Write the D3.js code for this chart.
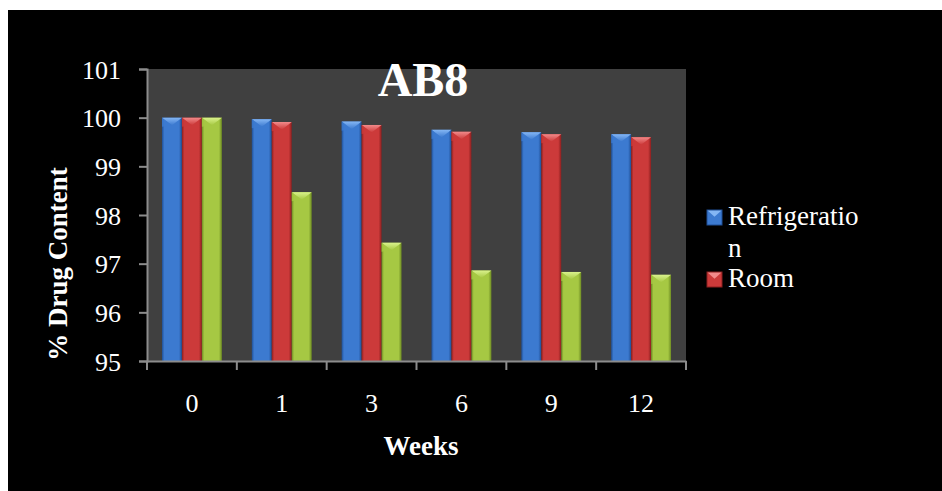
<!DOCTYPE html>
<html>
<head>
<meta charset="utf-8">
<script src="https://cdn.jsdelivr.net/npm/d3@7"></script>
<style>
  html, body { margin: 0; padding: 0; background: #ffffff; }
  svg { display: block; }
  text { font-family: "Liberation Serif", "DejaVu Serif", serif; fill: #ffffff; }
</style>
</head>
<body>
<script>
// ---- data ----
const weeks = ["0", "1", "3", "6", "9", "12"];
const seriesNames = ["Refrigeration", "Room", "Accelerated"];
const refrigeration = [100.0, 99.97, 99.92, 99.75, 99.70, 99.66];
const room = [100.0, 99.91, 99.85, 99.71, 99.66, 99.60];
const accelerated = [100.0, 98.47, 97.43, 96.86, 96.83, 96.77];
const yTicks = [95, 96, 97, 98, 99, 100, 101];
const legendNames = ["Refrigeration", "Room"];

const seriesValues = [refrigeration, room, accelerated];
const colors = [
  { base: "#3c7ad0", light: "#84b6f4", dark: "#1f4f96" },
  { base: "#cc3a3a", light: "#f28a8a", dark: "#8c1e1e" },
  { base: "#a6c843", light: "#daf28c", dark: "#6e8c22" }
];

const W = 942, H = 491;
const svg = d3.select("body").append("svg").attr("width", W).attr("height", H);

// chart background
svg.append("rect").attr("x", 8).attr("y", 10).attr("width", W - 8).attr("height", H - 10).attr("fill", "#000000");

const plot = { left: 147, right: 686, top: 69, bottom: 361 };

svg.append("rect")
  .attr("x", plot.left).attr("y", plot.top)
  .attr("width", plot.right - plot.left).attr("height", plot.bottom - plot.top)
  .attr("fill", "#404040");

const x0 = d3.scaleBand().domain(weeks).range([plot.left, plot.right]).paddingInner(0).paddingOuter(0);
const x1 = d3.scaleBand().domain(seriesNames).range([0, x0.bandwidth()]).paddingInner(0).paddingOuter(0.75);
const y = d3.scaleLinear().domain([95, 101]).range([plot.bottom, plot.top]);

// gradients
const defs = svg.append("defs");
colors.forEach((c, i) => {
  const g = defs.append("linearGradient").attr("id", "g" + i).attr("x1", "0").attr("x2", "1").attr("y1", "0").attr("y2", "0");
  g.append("stop").attr("offset", "0").attr("stop-color", c.dark);
  g.append("stop").attr("offset", "0.12").attr("stop-color", c.base);
  g.append("stop").attr("offset", "0.4").attr("stop-color", c.base);
  g.append("stop").attr("offset", "0.85").attr("stop-color", c.base);
  g.append("stop").attr("offset", "1").attr("stop-color", c.dark);
  const t = defs.append("linearGradient").attr("id", "t" + i).attr("x1", "0").attr("x2", "0").attr("y1", "0").attr("y2", "1");
  t.append("stop").attr("offset", "0").attr("stop-color", c.light);
  t.append("stop").attr("offset", "1").attr("stop-color", c.base);
});

// bars
const groups = svg.append("g").selectAll("g")
  .data(weeks)
  .join("g")
  .attr("transform", d => `translate(${x0(d)},0)`);

groups.each(function(wk, wi) {
  const g = d3.select(this);
  seriesNames.forEach((s, si) => {
    const v = seriesValues[si][wi];
    const bx = x1(s), bw = x1.bandwidth();
    const top = y(v), bot = y(95);
    g.append("rect").attr("x", bx).attr("y", top).attr("width", bw).attr("height", bot - top)
      .attr("fill", `url(#g${si})`);
    const bev = Math.min(bw * 0.38, (bot - top));
    g.append("path")
      .attr("d", `M${bx},${top} L${bx + bw},${top} L${bx + bw * 0.5},${top + bev} Z`)
      .attr("fill", `url(#t${si})`);
    g.append("path")
      .attr("d", `M${bx},${top} L${bx + bw * 0.5},${top + bev} L${bx},${top + bev * 1.2} Z`)
      .attr("fill", colors[si].base).attr("opacity", 0.8);
  });
});

// axes
const axisColor = "#8c8c8c";
const yAxis = svg.append("g").attr("transform", `translate(${plot.left},0)`)
  .call(d3.axisLeft(y).tickValues(yTicks).tickSize(8).tickFormat(d3.format("d")))
  .attr("font-family", null).attr("font-size", null);
yAxis.select(".domain").attr("stroke", axisColor).attr("stroke-width", 2);
yAxis.selectAll(".tick line").attr("stroke", axisColor).attr("stroke-width", 2);
yAxis.selectAll(".tick text").attr("fill", "#ffffff").attr("x", -26).attr("dy", "0.35em")
  .attr("font-family", "Liberation Serif").attr("font-size", 26);

const xAxis = svg.append("g").attr("transform", `translate(0,${plot.bottom})`)
  .call(d3.axisBottom(x0).tickSize(0).tickPadding(0))
  .attr("font-family", null).attr("font-size", null);
xAxis.select(".domain").attr("stroke", axisColor).attr("stroke-width", 2);
xAxis.selectAll(".tick text").attr("fill", "#ffffff").attr("y", 51).attr("dy", 0)
  .attr("font-family", "Liberation Serif").attr("font-size", 26);
// boundary ticks between categories
const boundaries = weeks.map(w => x0(w)).concat([x0(weeks[weeks.length - 1]) + x0.bandwidth()]);
svg.append("g").selectAll("line").data(boundaries).join("line")
  .attr("x1", d => d).attr("x2", d => d)
  .attr("y1", plot.bottom).attr("y2", plot.bottom + 9)
  .attr("stroke", axisColor).attr("stroke-width", 2);

// title
svg.append("text").attr("x", 423).attr("y", 96).attr("text-anchor", "middle")
  .style("font-size", "48px").style("font-weight", "bold").text("AB8");

// axis titles
svg.append("text").attr("x", 421).attr("y", 455).attr("text-anchor", "middle")
  .style("font-size", "27px").style("font-weight", "bold").text("Weeks");
svg.append("text").attr("transform", "translate(67,264) rotate(-90)").attr("text-anchor", "middle")
  .style("font-size", "27px").style("font-weight", "bold").text("% Drug Content");

// legend
const legend = svg.append("g");
const legendRows = [
  { name: legendNames[0], lines: ["Refrigeratio", "n"], y: 225, ci: 0 },
  { name: legendNames[1], lines: ["Room"], y: 287, ci: 1 }
];
legendRows.forEach(r => {
  const c = colors[r.ci];
  const sx = 707, sy = r.y - 15, ss = 15;
  legend.append("rect").attr("x", sx).attr("y", sy).attr("width", ss).attr("height", ss).attr("fill", c.base);
  legend.append("path").attr("d", `M${sx},${sy} L${sx + ss},${sy} L${sx + ss / 2},${sy + ss * 0.45} Z`).attr("fill", c.light);
  legend.append("rect").attr("x", sx).attr("y", sy).attr("width", ss).attr("height", ss).attr("fill", "none")
    .attr("stroke", c.dark).attr("stroke-width", 1);
  const t = legend.append("text").attr("x", 728).attr("y", r.y).style("font-size", "27px");
  r.lines.forEach((ln, i) => {
    t.append("tspan").attr("x", 728).attr("dy", i === 0 ? 0 : 32).text(ln);
  });
});
</script>
</body>
</html>
